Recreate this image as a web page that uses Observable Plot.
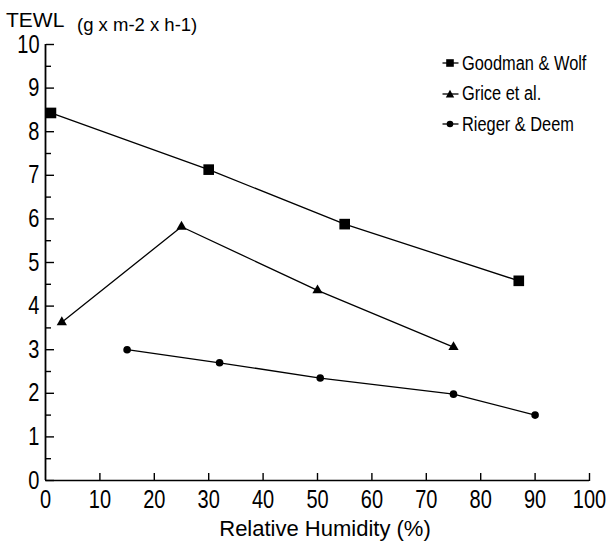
<!DOCTYPE html>
<html><head><meta charset="utf-8">
<script src="https://cdn.jsdelivr.net/npm/d3@7"></script>
<script src="https://cdn.jsdelivr.net/npm/@observablehq/plot@0.6"></script>
<style>
body{margin:0;background:#fff;}
#wrap{position:relative;width:612px;height:541px;overflow:hidden;font-family:"Liberation Sans",Arial,sans-serif;color:#000;}
#wrap svg{display:block;}
.ov{position:absolute;white-space:nowrap;line-height:1;}
#legend{position:absolute;left:442px;top:48px;}
#legend .row{display:flex;align-items:center;height:30.5px;font-size:19.5px;}
#legend .row span{display:inline-block;transform:scaleX(0.84);transform-origin:0 50%;}
#legend svg{margin-right:3px;}
</style></head><body><div id="wrap"></div><script>
// Data
const seriesNames = ["Goodman & Wolf", "Grice et al.", "Rieger & Deem"];
const goodmanX = [1, 30, 55, 87];
const goodmanY = [8.43, 7.13, 5.88, 4.58];
const griceX = [3, 25, 50, 75];
const griceY = [3.63, 5.82, 4.36, 3.06];
const riegerX = [15, 32, 50.5, 75, 90];
const riegerY = [3.0, 2.7, 2.35, 1.98, 1.5];
const xTickLabels = [0, 10, 20, 30, 40, 50, 60, 70, 80, 90, 100];
const xTickMarks = [10, 20, 30, 40, 50, 60, 70, 80, 90, 100];
const yTickLabels = [0, 1, 2, 3, 4, 5, 6, 7, 8, 9, 10];
const yMinorTicks = [0.5, 1.5, 2.5, 3.5, 4.5, 5.5, 6.5, 7.5, 8.5, 9.5];
const symbols = ["square", "triangle", "circle"];
const symbolR = [6, 3.8, 3.8];

const seriesData = [
  goodmanX.map((x, i) => ({series: seriesNames[0], x, y: goodmanY[i]})),
  griceX.map((x, i) => ({series: seriesNames[1], x, y: griceY[i]})),
  riegerX.map((x, i) => ({series: seriesNames[2], x, y: riegerY[i]}))
];

const W = 612, H = 541, mL = 45, mR = 23, mT = 44, mB = 61;
const frameW = W - mL - mR, frameH = H - mT - mB;

const marks = [
  Plot.ruleX([0], {stroke: "#000", strokeWidth: 1.8}),
  Plot.ruleY([0], {stroke: "#000", strokeWidth: 1.6}),
  // inward ticks: right-anchored axis shifted onto the left edge, top-anchored axis shifted onto the bottom edge
  Plot.axisY({anchor: "right", ticks: yTickLabels, tickSize: 8, dx: -frameW, tickFormat: () => "", label: null, strokeWidth: 1.4}),
  Plot.axisY({anchor: "right", ticks: yMinorTicks, tickSize: 5, dx: -frameW, tickFormat: () => "", label: null, strokeWidth: 1.4}),
  Plot.axisY({anchor: "left", ticks: yTickLabels, tickSize: 0, tickPadding: 6, label: null, fontSize: 25}),
  Plot.axisX({anchor: "top", ticks: xTickMarks, tickSize: 8, dy: frameH, tickFormat: () => "", label: null, strokeWidth: 1.4}),
  Plot.axisX({anchor: "bottom", ticks: xTickLabels, tickSize: 0, tickPadding: 10, label: null, fontSize: 25})
];
seriesData.forEach((data, k) => {
  marks.push(Plot.line(data, {x: "x", y: "y", stroke: "#000", strokeWidth: 1.3}));
  marks.push(Plot.dot(data, {x: "x", y: "y", symbol: () => symbols[k], r: symbolR[k], fill: "#000", stroke: "none"}));
});

const chart = Plot.plot({
  width: W,
  height: H,
  marginLeft: mL,
  marginRight: mR,
  marginTop: mT,
  marginBottom: mB,
  x: {domain: [0, 100]},
  y: {domain: [0, 10]},
  symbol: {domain: symbols, range: symbols},
  style: {background: "#fff", color: "#000", fontFamily: '"Liberation Sans",Arial,sans-serif'},
  marks
});
// condense the tick-label glyphs horizontally (narrow typeface look)
chart.querySelectorAll('g[aria-label$="tick label"] text').forEach(t => {
  const tr = t.getAttribute("transform") || "";
  t.setAttribute("transform", tr + " scale(0.8,1)");
});
const wrap = document.getElementById("wrap");
wrap.appendChild(chart);

function addText(txt, left, top, size, extra) {
  const d = document.createElement("div");
  d.className = "ov";
  d.textContent = txt;
  d.style.left = left + "px";
  d.style.top = top + "px";
  d.style.fontSize = size + "px";
  if (extra) Object.assign(d.style, extra);
  wrap.appendChild(d);
  return d;
}
addText("TEWL", 6, 9, 21);
addText("(g x m-2 x h-1)", 77, 16, 18.5);
addText("Relative Humidity (%)", 325, 518, 22, {transform: "translateX(-50%)"});

// legend
const legend = document.createElement("div");
legend.id = "legend";
const shapes = [
  '<rect x="4.2" y="2.2" width="7.6" height="7.6" fill="#000"/>',
  '<path d="M8,1.8 L12.2,9.4 L3.8,9.4 Z" fill="#000"/>',
  '<circle cx="8" cy="6" r="3.3" fill="#000"/>'
];
seriesNames.forEach((name, k) => {
  const row = document.createElement("div");
  row.className = "row";
  row.innerHTML = `<svg width="17" height="12" viewBox="0 0 17 12"><line x1="0.5" y1="6" x2="16.5" y2="6" stroke="#000" stroke-width="1.3"/>${shapes[k]}</svg><span>${name.replace("&", "&amp;")}</span>`;
  legend.appendChild(row);
});
wrap.appendChild(legend);
</script></body></html>
